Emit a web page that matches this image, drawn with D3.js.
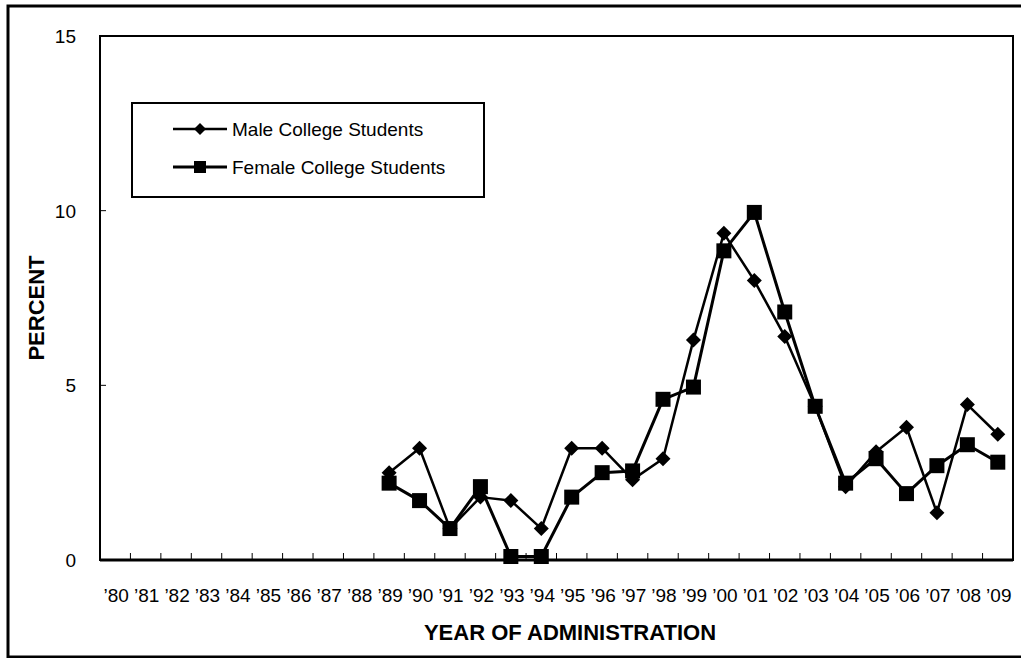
<!DOCTYPE html>
<html>
<head>
<meta charset="utf-8">
<script src="https://cdn.jsdelivr.net/npm/d3@7"></script>
<style>
  html, body { margin: 0; padding: 0; background: #fff; }
  svg { display: block; font-family: "Liberation Sans", Arial, sans-serif; }
</style>
</head>
<body>
<svg id="chart" width="1021" height="658"></svg>
<script>
const years = ["’80","’81","’82","’83","’84","’85","’86","’87","’88","’89","’90","’91","’92","’93","’94","’95","’96","’97","’98","’99","’00","’01","’02","’03","’04","’05","’06","’07","’08","’09"];
const maleValues = [null,null,null,null,null,null,null,null,null,
  2.5,3.2,0.9,1.8,1.7,0.9,3.2,3.2,2.3,2.9,6.3,9.35,8.0,6.4,4.4,2.1,3.1,3.8,1.35,4.45,3.6];
const femaleValues = [null,null,null,null,null,null,null,null,null,
  2.2,1.7,0.9,2.1,0.1,0.1,1.8,2.5,2.55,4.6,4.95,8.85,9.95,7.1,4.4,2.2,2.9,1.9,2.7,3.3,2.8];
const yTicks = [0, 5, 10, 15];
const seriesNames = ["Male College Students", "Female College Students"];

const svg = d3.select("#chart");
const plot = { left: 100, top: 36, right: 1013, bottom: 560 };

// outer chart border
svg.append("rect").attr("x", 8).attr("y", 6).attr("width", 1030).attr("height", 651)
  .attr("fill", "none").attr("stroke", "#000").attr("stroke-width", 3);

const x = d3.scaleBand().domain(years).range([plot.left, plot.right]).padding(0);
const y = d3.scaleLinear().domain([0, 15]).range([plot.bottom, plot.top]);

// plot area border
svg.append("rect").attr("x", plot.left).attr("y", plot.top)
  .attr("width", plot.right - plot.left).attr("height", plot.bottom - plot.top)
  .attr("fill", "none").attr("stroke", "#000").attr("stroke-width", 2);

// x axis baseline
svg.append("line").attr("x1", plot.left).attr("x2", plot.right)
  .attr("y1", y(0)).attr("y2", y(0)).attr("stroke", "#000").attr("stroke-width", 3);

// x ticks at category boundaries (inside)
const bounds = years.map(d => x(d)).concat([x(years[years.length - 1]) + x.bandwidth()]);
svg.append("g").selectAll("line").data(bounds).join("line")
  .attr("x1", d => d).attr("x2", d => d)
  .attr("y1", y(0)).attr("y2", y(0) - 7)
  .attr("stroke", "#000").attr("stroke-width", 1);

// x tick labels
svg.append("g").selectAll("text").data(years).join("text")
  .attr("x", d => x(d) + x.bandwidth() / 2 + 1)
  .attr("y", 602)
  .attr("text-anchor", "middle")
  .attr("font-size", 19)
  .text(d => d);

// y ticks (inside) and labels
const yAxis = svg.append("g");
yAxis.selectAll("line").data(yTicks).join("line")
  .attr("x1", plot.left).attr("x2", plot.left + 6)
  .attr("y1", d => y(d)).attr("y2", d => y(d))
  .attr("stroke", "#000").attr("stroke-width", 1);
yAxis.selectAll("text").data(yTicks).join("text")
  .attr("x", 76).attr("y", d => y(d) + 7)
  .attr("text-anchor", "end").attr("font-size", 19)
  .text(d => d);

// axis titles
svg.append("text").attr("x", 570).attr("y", 640)
  .attr("text-anchor", "middle").attr("font-size", 22).attr("font-weight", "bold")
  .text("YEAR OF ADMINISTRATION");
svg.append("text")
  .attr("transform", `translate(44, 308) rotate(-90)`)
  .attr("text-anchor", "middle").attr("font-size", 22).attr("font-weight", "bold")
  .text("PERCENT");

const cx = i => x(years[i]) + x.bandwidth() / 2;
const line = d3.line().defined(d => d.v != null).x(d => cx(d.i)).y(d => y(d.v));

const maleData = maleValues.map((v, i) => ({ v, i }));
const femaleData = femaleValues.map((v, i) => ({ v, i }));

const diamond = s => `M0,${-s}L${s},0L0,${s}L${-s},0Z`;

// male series
svg.append("path").datum(maleData).attr("d", line)
  .attr("fill", "none").attr("stroke", "#000").attr("stroke-width", 2.5).attr("stroke-linejoin", "round");
svg.append("g").selectAll("path").data(maleData.filter(d => d.v != null)).join("path")
  .attr("transform", d => `translate(${cx(d.i)},${y(d.v)})`)
  .attr("d", diamond(7.5)).attr("fill", "#000");

// female series
svg.append("path").datum(femaleData).attr("d", line)
  .attr("fill", "none").attr("stroke", "#000").attr("stroke-width", 3).attr("stroke-linejoin", "round");
svg.append("g").selectAll("rect").data(femaleData.filter(d => d.v != null)).join("rect")
  .attr("x", d => cx(d.i) - 7.5).attr("y", d => y(d.v) - 7.5)
  .attr("width", 15).attr("height", 15).attr("fill", "#000");

// legend
const lg = svg.append("g");
lg.append("rect").attr("x", 132).attr("y", 103).attr("width", 352).attr("height", 94)
  .attr("fill", "#fff").attr("stroke", "#000").attr("stroke-width", 2);
const legendY = [129, 167];
seriesNames.forEach((name, k) => {
  const ly = legendY[k];
  lg.append("line").attr("x1", 173).attr("x2", 227).attr("y1", ly).attr("y2", ly)
    .attr("stroke", "#000").attr("stroke-width", k === 0 ? 2.5 : 3);
  if (k === 0) {
    lg.append("path").attr("transform", `translate(200,${ly})`).attr("d", diamond(6)).attr("fill", "#000");
  } else {
    lg.append("rect").attr("x", 194).attr("y", ly - 6).attr("width", 12).attr("height", 12).attr("fill", "#000");
  }
  lg.append("text").attr("x", 232).attr("y", ly + 7).attr("font-size", 19).text(name);
});
</script>
</body>
</html>
